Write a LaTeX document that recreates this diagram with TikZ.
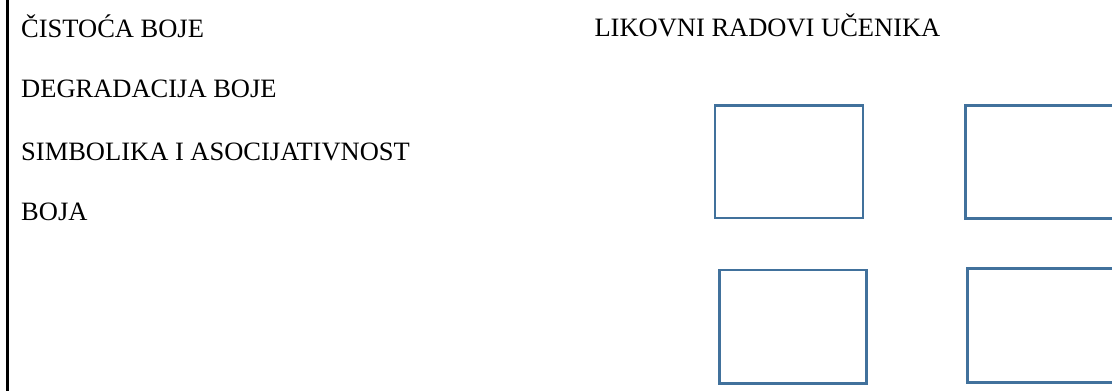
\documentclass[tikz,border=0pt]{standalone}
\usepackage{fontspec}
\setmainfont{Liberation Serif}
\definecolor{boxblue}{HTML}{41719C}
\begin{document}
\begin{tikzpicture}[x=1pt,y=-1pt,
  lbl/.style={anchor=base west,inner sep=0pt,font=\fontsize{26.5}{30}\selectfont,text=black},
  workbox/.style={draw=boxblue,line width=2.6pt,rectangle,inner sep=0pt,fill=white}]
\useasboundingbox (0,0) rectangle (1112,391);
\draw[line width=2.2pt,black] (7.5,-5) -- (7.5,396);
\node[lbl] (t1) at (21,37) {ČISTOĆA BOJE};
\node[lbl] (t2) at (21,97) {DEGRADACIJA BOJE};
\node[lbl] (t3) at (21,160.5) {SIMBOLIKA I ASOCIJATIVNOST};
\node[lbl] (t4) at (21,220.7) {BOJA};
\node[lbl] (t5) at (594.3,36.2) {LIKOVNI RADOVI UČENIKA};
\node[workbox,minimum width=147.8pt,minimum height=112.3pt] (b1) at (788.9,161.85) {};
\node[workbox,minimum width=147.8pt,minimum height=113pt] (b2) at (1039.1,162.2) {};
\node[workbox,minimum width=147.3pt,minimum height=113.4pt] (b3) at (792.85,326.5) {};
\node[workbox,minimum width=147.8pt,minimum height=113.7pt] (b4) at (1041.1,325.35) {};
\end{tikzpicture}
\end{document}
